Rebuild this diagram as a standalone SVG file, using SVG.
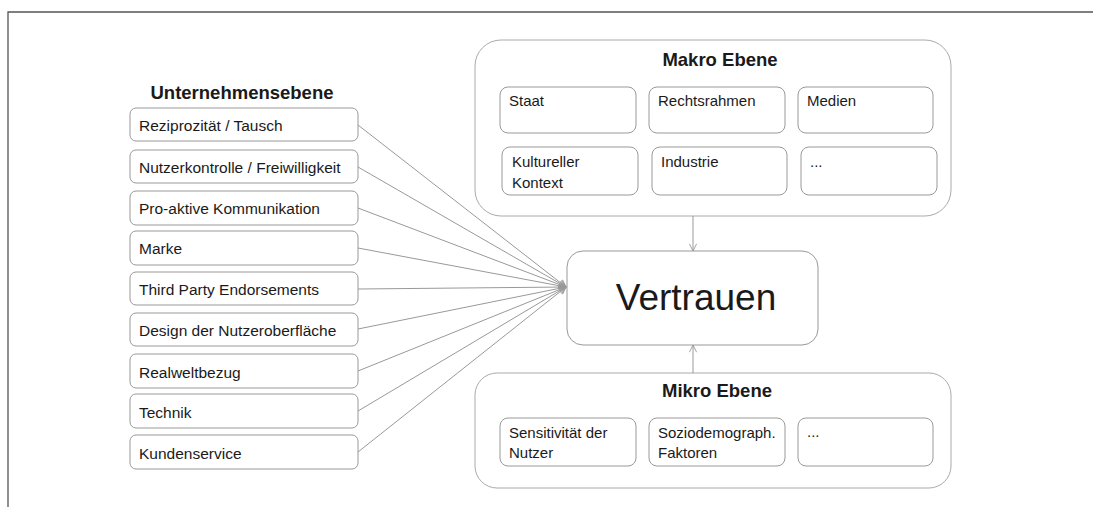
<svg xmlns="http://www.w3.org/2000/svg" width="1093" height="507" viewBox="0 0 1093 507">
<defs>
<style>
text{font-family:"Liberation Sans",Arial,sans-serif;fill:#1a1a1a}
.t{font-size:15.5px}
.s{font-size:15px}
.h{font-size:18.5px;font-weight:bold}
.big{font-size:37px}
.box{fill:#fff;stroke:#999;stroke-width:1}
.outer{fill:#fff;stroke:#aaa;stroke-width:1}
.con{stroke:#999;stroke-width:1;fill:none;marker-end:url(#arr)}
</style>
<marker id="arr" viewBox="0 0 10 10" refX="9" refY="5" markerWidth="9" markerHeight="9" orient="auto" markerUnits="userSpaceOnUse">
<path d="M1,1 L9,5 L1,9" fill="none" stroke="#999" stroke-width="1"/>
</marker>
</defs>
<rect width="1093" height="507" fill="#fff"/>
<path d="M8,507 L8,12 L1093,12" fill="none" stroke="#555" stroke-width="1.3"/>

<g id="unternehmensebene">
<text class="h" x="242" y="99" text-anchor="middle">Unternehmensebene</text>
</g>
<g id="n1"><rect class="box" x="130" y="108" width="228" height="33" rx="6"/><text class="t" x="139" y="131">Reziprozität / Tausch</text></g>
<g id="n2"><rect class="box" x="130" y="150" width="228" height="33" rx="6"/><text class="t" x="139" y="173">Nutzerkontrolle / Freiwilligkeit</text></g>
<g id="n3"><rect class="box" x="130" y="191" width="228" height="34" rx="6"/><text class="t" x="139" y="214">Pro-aktive Kommunikation</text></g>
<g id="n4"><rect class="box" x="130" y="231" width="228" height="34" rx="6"/><text class="t" x="139" y="254">Marke</text></g>
<g id="n5"><rect class="box" x="130" y="272" width="228" height="33" rx="6"/><text class="t" x="139" y="295">Third Party Endorsements</text></g>
<g id="n6"><rect class="box" x="130" y="313" width="228" height="33" rx="6"/><text class="t" x="139" y="336">Design der Nutzeroberfläche</text></g>
<g id="n7"><rect class="box" x="130" y="354" width="228" height="34" rx="6"/><text class="t" x="139" y="378">Realweltbezug</text></g>
<g id="n8"><rect class="box" x="130" y="394" width="228" height="34" rx="6"/><text class="t" x="139" y="418">Technik</text></g>
<g id="n9"><rect class="box" x="130" y="435" width="228" height="34" rx="6"/><text class="t" x="139" y="459">Kundenservice</text></g>

<g id="makro">
<rect class="outer" x="475" y="40" width="476" height="176" rx="26"/>
<text class="h" x="720" y="66" text-anchor="middle">Makro Ebene</text>
<rect class="box" x="500" y="87" width="136" height="46" rx="8"/><text class="s" x="509" y="106">Staat</text>
<rect class="box" x="649" y="87" width="136" height="46" rx="8"/><text class="s" x="658" y="106">Rechtsrahmen</text>
<rect class="box" x="798" y="87" width="135" height="46" rx="8"/><text class="s" x="807" y="106">Medien</text>
<rect class="box" x="502" y="147" width="136" height="48" rx="8"/><text class="s" x="512" y="167">Kultureller</text><text class="s" x="512" y="188">Kontext</text>
<rect class="box" x="652" y="147" width="135" height="48" rx="8"/><text class="s" x="661" y="167">Industrie</text>
<rect class="box" x="801" y="147" width="136" height="48" rx="8"/><text class="s" x="810" y="167">...</text>
</g>

<g id="vertrauen">
<rect class="box" x="567" y="251" width="251" height="94" rx="16"/>
<text class="big" x="696" y="310" text-anchor="middle">Vertrauen</text>
</g>

<g id="mikro">
<rect class="outer" x="475" y="373" width="476" height="115" rx="22"/>
<text class="h" x="717" y="397" text-anchor="middle">Mikro Ebene</text>
<rect class="box" x="500" y="418" width="136" height="48" rx="8"/><text class="s" x="509" y="438">Sensitivität der</text><text class="s" x="509" y="458">Nutzer</text>
<rect class="box" x="649" y="418" width="136" height="48" rx="8"/><text class="s" x="658" y="438">Soziodemograph.</text><text class="s" x="658" y="458">Faktoren</text>
<rect class="box" x="798" y="418" width="135" height="48" rx="8"/><text class="s" x="807" y="437">...</text>
</g>

<g id="connectors">
<line class="con" x1="358" y1="125" x2="566" y2="287"/>
<line class="con" x1="358" y1="167" x2="566" y2="287"/>
<line class="con" x1="358" y1="208" x2="566" y2="287"/>
<line class="con" x1="358" y1="248" x2="566" y2="287"/>
<line class="con" x1="358" y1="289" x2="566" y2="287"/>
<line class="con" x1="358" y1="329" x2="566" y2="287"/>
<line class="con" x1="358" y1="371" x2="566" y2="287"/>
<line class="con" x1="358" y1="411" x2="566" y2="287"/>
<line class="con" x1="358" y1="452" x2="566" y2="287"/>
<line class="con" x1="693" y1="216" x2="693" y2="251"/>
<line class="con" x1="693" y1="373" x2="693" y2="345"/>
</g>
</svg>
